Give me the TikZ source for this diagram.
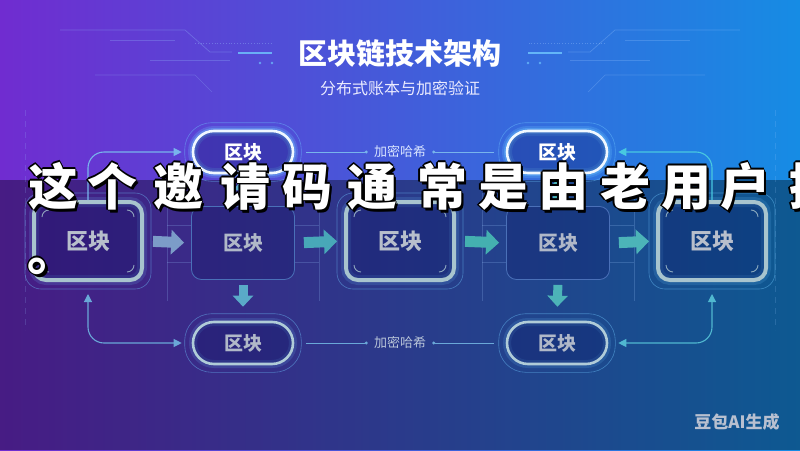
\documentclass[tikz,border=0pt]{standalone}
\usepackage{fontspec}
\newfontfamily\cjk{Noto Sans CJK SC}
\usetikzlibrary{arrows.meta,calc,shapes.misc}
\newcommand\fsz[1]{\fontsize{#1}{#1}\selectfont}
\definecolor{bgL}{HTML}{702CD0}
\definecolor{bgM}{HTML}{3A4CD6}
\definecolor{bgR}{HTML}{168CE4}
\definecolor{navy}{HTML}{0A1060}
\definecolor{bigline}{HTML}{A8C4CE}
\definecolor{bigtext}{HTML}{B8BFCC}
\definecolor{plainline}{HTML}{4A70B8}
\definecolor{plaintext}{HTML}{B0B8C8}
\definecolor{glowc}{HTML}{70C8FF}
\definecolor{topline}{HTML}{F0F8FF}
\definecolor{botline}{HTML}{B0CCD8}
\definecolor{conA}{HTML}{78B4EC}
\definecolor{conB}{HTML}{48C8E0}
\definecolor{conC}{HTML}{6AA8D8}
\definecolor{conD}{HTML}{50B8D0}
\definecolor{arA}{HTML}{7C9CC8}
\definecolor{arB}{HTML}{48A8B8}
\definecolor{arC}{HTML}{44B0B0}
\definecolor{arD}{HTML}{4CB4B8}
\definecolor{arV}{HTML}{5AAAC8}
\definecolor{lblA}{HTML}{D8E4FF}
\definecolor{lblB}{HTML}{B8C4D8}
\definecolor{wmc}{HTML}{B8C0D0}
\definecolor{deco}{HTML}{9CC8FF}
\tikzset{
  pillbase/.style={rounded rectangle, minimum width=100pt, minimum height=42pt,
    inner sep=0pt, line width=2.6pt, fill=navy, fill opacity=0.3, text opacity=1,
    draw opacity=1, font=\cjk\bfseries\fsz{19}},
  toppill/.style={pillbase, draw=topline, text=white,
    preaction={draw=glowc, line width=10pt, draw opacity=0.22},
    preaction={draw=glowc, line width=6pt, draw opacity=0.35}},
  botpill/.style={pillbase, draw=botline, text=plaintext,
    preaction={draw=glowc, line width=8pt, draw opacity=0.15}},
  ring/.style={draw=glowc, line width=0.6pt, draw opacity=0.45},
  bigblk/.style={rectangle, rounded corners=12pt, minimum width=108pt, minimum height=78pt,
    inner sep=0pt, line width=4pt, draw=bigline, fill=navy, fill opacity=0.3,
    text opacity=1, text=bigtext, font=\cjk\bfseries\fsz{22},
    preaction={draw=glowc, line width=10pt, draw opacity=0.15}},
  plainblk/.style={rectangle, rounded corners=10pt, minimum width=103pt, minimum height=73pt,
    inner sep=0pt, line width=0.8pt, draw=plainline, fill=navy, fill opacity=0.25,
    text opacity=1, text=plaintext, font=\cjk\bfseries\fsz{20}},
  cmark/.style={draw=bigline, line width=0.9pt, draw opacity=0.8},
  frameln/.style={draw=deco, line width=0.6pt, draw opacity=0.22},
  conn/.style={line width=1.1pt, rounded corners=16pt, -{Triangle[length=8pt,width=8pt]}, shorten >=10pt},
  lconn/.style={line width=0.9pt, -{Circle[length=3pt]}},
  lbl/.style={font=\cjk\fsz{13}, inner sep=0pt},
  barrow/.style={line width=11pt, -{Triangle[length=13pt,width=24pt]}, shorten <=9pt, shorten >=7pt},
  varrow/.style={line width=9pt, -{Triangle[length=11pt,width=20pt]}},
  oltext/.style={font=\cjk\bfseries\fsz{50}, inner sep=0pt, anchor=base},
}
\newcommand\cmarks[1]{%
  \draw[cmark] ($(#1.north west)+(10,17)$) arc[start angle=180,end angle=270,radius=7];
  \draw[cmark] ($(#1.north east)+(-17,10)$) arc[start angle=270,end angle=360,radius=7];
  \draw[cmark] ($(#1.south east)+(-10,-17)$) arc[start angle=0,end angle=90,radius=7];
  \draw[cmark] ($(#1.south west)+(17,-10)$) arc[start angle=90,end angle=180,radius=7];
}
\newcommand\bigring[1]{%
  \draw[ring, rounded corners=16pt] ($(#1.north west)+(-7,-7)$) rectangle ($(#1.south east)+(7,7)$);
}
\newcommand\pillring[1]{%
  \draw[ring, rounded corners=27pt] ($(#1.west|-#1.north)+(-7,-7)$) rectangle ($(#1.east|-#1.south)+(7,7)$);
}
\begin{document}
\begin{tikzpicture}[x=1pt,y=-1pt]
\useasboundingbox (0,0) rectangle (800,450);
\clip (0,0) rectangle (800,450);
% background
\shade[left color=bgL, middle color=bgM, right color=bgR] (0,0) rectangle (800,450);
\fill[black, opacity=0.36] (0,180) rectangle (800,450);
% title decorations (left, then mirrored right)
\foreach \s/\o in {1/0, -1/800}{
\begin{scope}[xshift=\o pt, xscale=\s]
  \draw[deco, line width=0.7pt, opacity=0.3] (60,30) -- (185,30) -- (210,52) -- (232,52);
  \draw[deco, line width=0.7pt, opacity=0.25] (110,40) -- (175,40);
  \draw[deco, line width=0.8pt, opacity=0.35, dotted] (195,43) -- (272,43);
  \draw[deco, line width=0.7pt, opacity=0.25] (95,75) -- (195,75) -- (212,92);
  \draw[deco, line width=0.7pt, opacity=0.25] (150,60) -- (230,60);
  \draw[glowc, line width=2.2pt, opacity=0.8] (238,53) -- (272,53);
  \fill[glowc, opacity=0.7] (260,63) circle (1.4) (272,63) circle (1.4);
  \draw[deco, line width=0.6pt, opacity=0.18, dash pattern=on 6pt off 5pt] (25,110) -- (25,330);
\end{scope}}
% title
\node[font=\cjk\bfseries\fsz{29}, text=white] (title) at (400,53) {区块链技术架构};
\node[font=\cjk\fsz{16}, text=white!92!blue] (sub) at (400,88) {分布式账本与加密验证};
% middle row
\node[bigblk] (b1) at (88,241) {区块};
\node[plainblk] (b2) at (243,243) {区块};
\node[bigblk] (b3) at (400,241) {区块};
\node[plainblk] (b4) at (558,243) {区块};
\node[bigblk] (b5) at (712,241) {区块};
\foreach \n in {b1,b3,b5}{\bigring{\n}\cmarks{\n}}
% faint bracket frames around plain blocks
\foreach \n in {b2,b4}{
  \draw[frameln] ($(\n.west)+(-24,-50)$) -- ($(\n.west)+(-24,58)$);
  \draw[frameln] ($(\n.east)+(24,-50)$) -- ($(\n.east)+(24,58)$);
  \draw[frameln] ($(\n.west)+(-24,-18)$) -- ($(\n.west)+(0,-18)$);
  \draw[frameln] ($(\n.west)+(-24,19)$) -- ($(\n.west)+(0,19)$);
  \draw[frameln] ($(\n.east)+(24,-18)$) -- ($(\n.east)+(0,-18)$);
  \draw[frameln] ($(\n.east)+(24,19)$) -- ($(\n.east)+(0,19)$);
}
% pills
\node[toppill] (p1) at (243,152) {区块};
\node[toppill] (p2) at (557,152) {区块};
\node[botpill] (p3) at (243,343) {区块};
\node[botpill] (p4) at (557,343) {区块};
\foreach \n in {p1,p2,p3,p4}{\pillring{\n}}
% labels
\node[lbl, text=lblA] (h1) at (400,152) {加密哈希};
\node[lbl, text=lblB] (h2) at (400,343) {加密哈希};
\draw[lconn, conA] (p1.east) -- (h1.west) [shorten <=12pt, shorten >=6pt];
\draw[lconn, conA] (p2.west) -- (h1.east) [shorten <=12pt, shorten >=6pt];
\draw[lconn, conC] (p3.east) -- (h2.west) [shorten <=12pt, shorten >=6pt];
\draw[lconn, conC] (p4.west) -- (h2.east) [shorten <=12pt, shorten >=6pt];
% connectors
\draw[conn, conA] (b1.north) |- (p1.west);
\draw[conn, conB] (b5.north) |- (p2.east);
\draw[conn, conC, {Triangle[length=8pt,width=8pt]}-{Triangle[length=8pt,width=8pt]}, shorten <=12pt] (b1.south) |- (p3.west);
\draw[conn, conD, {Triangle[length=8pt,width=8pt]}-{Triangle[length=8pt,width=8pt]}, shorten <=12pt] (b5.south) |- (p4.east);
% block arrows
\draw[barrow, arA] (b1.east) -- (b2.west);
\draw[barrow, arB] (b2.east) -- (b3.west);
\draw[barrow, arC] (b3.east) -- (b4.west);
\draw[barrow, arD] (b4.east) -- (b5.west);
\draw[varrow, arV, shorten <=5pt, shorten >=14pt] (b2.south) -- (p3.north);
\draw[varrow, arD, shorten <=5pt, shorten >=14pt] (b4.south) -- (p4.north);
\draw[varrow, arV, shorten <=0pt, shorten >=5pt] (b2.north) -- (p1.south);
\draw[varrow, arD, shorten <=0pt, shorten >=5pt] (b4.north) -- (p2.south);
% watermark
\node[font=\cjk\bfseries\fsz{17}, text=wmc] (wm) at (737,422) {豆包AI生成};
% overlay caption
\foreach \c/\px [count=\i from 0] in {这/53,个/112,邀/178,请/245,码/307,通/372,常/442,是/503,由/563,老/625,用/686,户/745,提/814}{
  \foreach \dx/\dy in {-1.2/0, 1.2/0, 0/-1.2, 0/1.2, -0.9/-0.9, 0.9/-0.9, -0.9/0.9, 0.9/0.9, 2.2/2.6, 2.8/3.2}
    \node[oltext, text=black] at ({\px+\dx},{205+\dy}) {\c};
  \node[oltext, text=white] (cap\i) at (\px,205) {\c};
}
\foreach \dx/\dy in {-1.2/0, 1.2/0, 0/-1.2, 0/1.2, -0.9/-0.9, 0.9/-0.9, -0.9/0.9, 0.9/0.9, 2.2/2.6, 2.8/3.2}
  \node[oltext, anchor=base west, text=black] at ({27+\dx},{270+\dy}) {。};
\node[oltext, anchor=base west, text=white] (stop) at (27,270) {。};
\end{tikzpicture}
\end{document}
